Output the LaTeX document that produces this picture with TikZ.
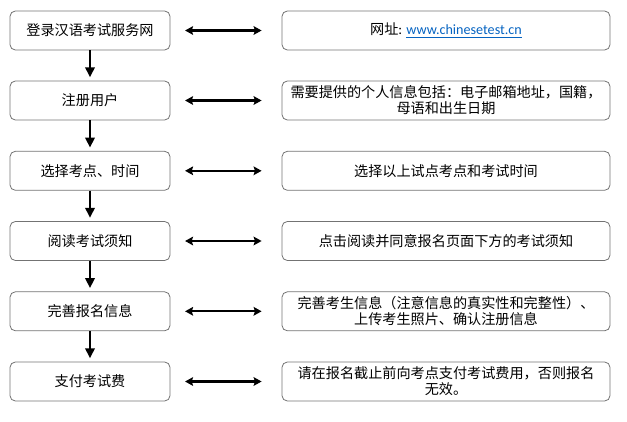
\documentclass[tikz,border=0pt]{standalone}
\usepackage{fontspec}
\usepackage{xcolor}
\setmainfont{Noto Sans CJK SC}
\newfontfamily\latinfont{Carlito}
\usetikzlibrary{arrows.meta}
\definecolor{linkblue}{RGB}{5,99,193}
\tikzset{
  stepbox/.style={draw=black!55, line width=0.6pt, rounded corners=4pt,
    minimum width=120pt, minimum height=29.25pt, align=center,
    font=\fontsize{10.6}{12}\selectfont},
  infobox/.style={stepbox, minimum width=246pt},
  down/.style={-{Triangle[width=7pt,length=7.5pt]}, line width=2.2pt, shorten >=2.5pt},
  both/.style={{Stealth[width=6.5pt,length=6pt,inset=1pt]}-{Stealth[width=6.5pt,length=6pt,inset=1pt]}, line width=1.7pt}
}
\begin{document}
\begin{tikzpicture}[x=0.75pt,y=-0.75pt]
  \useasboundingbox (0,0) rectangle (627,421);
  % steps on the left
  \node [stepbox] (reg) at (90,30.5) {登录汉语考试服务网};
  \node [stepbox] (user) at (90,100.5) {注册用户};
  \node [stepbox] (site) at (90,170.8) {选择考点、时间};
  \node [stepbox] (read) at (90,241) {阅读考试须知};
  \node [stepbox] (info) at (90,311.3) {完善报名信息};
  \node [stepbox] (pay) at (90,381.5) {支付考试费};
  % notes on the right
  \node [infobox] (regnote) at (446,30.5) {网址{\latinfont: \textcolor{linkblue}{\underline{www.chinesetest.cn}}}};
  \node [infobox] (usernote) at (446,100.5) {需要提供的个人信息包括：电子邮箱地址，国籍，\\母语和出生日期};
  \node [infobox] (sitenote) at (446,170.8) {选择以上试点考点和考试时间};
  \node [infobox] (readnote) at (446,241) {点击阅读并同意报名页面下方的考试须知};
  \node [infobox] (infonote) at (446,311.3) {完善考生信息（注意信息的真实性和完整性）、\\上传考生照片、确认注册信息};
  \node [infobox] (paynote) at (446,381.5) {请在报名截止前向考点支付考试费用，否则报名\\无效。};
  % arrows
  \draw [down] (reg.south) -- (user.north);
  \draw [down] (user.south) -- (site.north);
  \draw [down] (site.south) -- (read.north);
  \draw [down] (read.south) -- (info.north);
  \draw [down] (info.south) -- (pay.north);
  \draw [both] ([xshift=11pt]reg.east) -- ([xshift=-15pt]regnote.west);
  \draw [both] ([xshift=11pt]user.east) -- ([xshift=-15pt]usernote.west);
  \draw [both] ([xshift=11pt]site.east) -- ([xshift=-15pt]sitenote.west);
  \draw [both] ([xshift=11pt]read.east) -- ([xshift=-15pt]readnote.west);
  \draw [both] ([xshift=11pt]info.east) -- ([xshift=-15pt]infonote.west);
  \draw [both] ([xshift=11pt]pay.east) -- ([xshift=-15pt]paynote.west);
\end{tikzpicture}
\end{document}
